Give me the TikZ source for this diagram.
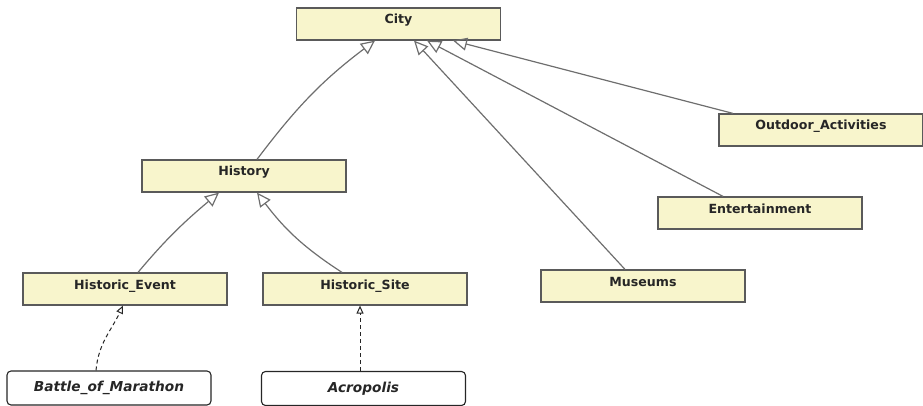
\documentclass[tikz,border=0pt]{standalone}
\usepackage{fontspec}
\setmainfont{DejaVu Sans}
\usetikzlibrary{arrows.meta}
\definecolor{boxfill}{HTML}{F8F5CC}
\definecolor{boxline}{HTML}{5A5A5A}
\definecolor{conn}{HTML}{6E6E6E}
\tikzset{
  cls/.style={draw=boxline, line width=1.2pt, fill=boxfill, minimum width=204pt, minimum height=32pt,
    inner ysep=2pt, text height=14pt, text depth=14pt, font=\bfseries\fontsize{12.6}{13}\selectfont, text=black!85},
  inst/.style={draw=black!85, line width=1.1pt, fill=white, rounded corners=4pt, minimum width=204pt, minimum height=34pt,
    font=\bfseries\itshape\fontsize{13.7}{14}\selectfont, text=black!85},
  gen/.style={draw=conn, line width=1.2pt, -{Triangle[open,length=14pt,width=13pt]}},
  inf/.style={draw=black!85, line width=1pt, dash pattern=on 4pt off 3pt, -{Triangle[open,length=8pt,width=7pt]}}
}
\begin{document}
\begin{tikzpicture}[x=1pt,y=-1pt]
\useasboundingbox (0,0) rectangle (923,406);
\node[cls] (city) at (398.5,24) {City};
\node[cls] (history) at (244,176) {History};
\node[cls] (hevent) at (125,289) {Historic\_Event};
\node[cls] (hsite) at (365,289) {Historic\_Site};
\node[cls] (museums) at (643,286) {Museums};
\node[cls] (ent) at (760,213) {Entertainment};
\node[cls] (outdoor) at (821,130) {Outdoor\_Activities};
\node[inst] (battle) at (109,388) {Battle\_of\_Marathon};
\node[inst] (acro) at (363.5,388.5) {Acropolis};

\draw[gen] (history.north -| 257,0) to[out=53,in=217] (city.south -| 375,0);
\draw[gen] (museums.north -| 625,0) -- (city.south -| 414,0);
\draw[gen] (ent.north -| 723,0) -- (city.south -| 427,0);
\draw[gen] (outdoor.north -| 733,0) -- (city.south -| 453,0);
\draw[gen] (hevent.north -| 138,0) to[out=50,in=220] (history.south -| 219,0);
\draw[gen] (hsite.north -| 342,0) to[out=147,in=-53] (history.south -| 257,0);
\draw[inf] (battle.north -| 96,0) to[out=85,in=245] (hevent.south -| 123,0);
\draw[inf] (acro.north -| 360,0) -- (hsite.south -| 360,0);
\end{tikzpicture}
\end{document}
